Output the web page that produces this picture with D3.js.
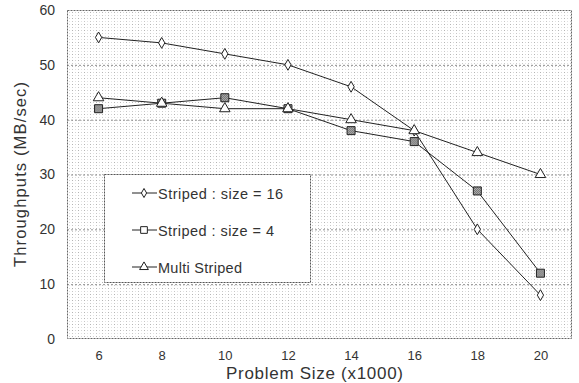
<!DOCTYPE html>
<html><head><meta charset="utf-8">
<script src="https://cdn.jsdelivr.net/npm/d3@7"></script>
<style>body{margin:0;background:#fff}svg{display:block}text{font-family:Arial,"Liberation Sans",sans-serif}</style>
</head><body><svg id="c" width="579" height="383"></svg>
<script>
const categories = [6, 8, 10, 12, 14, 16, 18, 20];
const striped16 = [55, 54, 52, 50, 46, 38, 20, 8];
const striped4 = [42, 43, 44, 42, 38, 36, 27, 12];
const multiStriped = [44, 43, 42, 42, 40, 38, 34, 30];
const yTicks = [0, 10, 20, 30, 40, 50, 60];
const seriesNames = ["Striped : size = 16", "Striped : size = 4", "Multi Striped"];

const svg = d3.select("#c");
const m = {l: 67, r: 572, t: 10, b: 339};
const x = d3.scalePoint().domain(categories).range([m.l, m.r]).padding(0.5);
const y = d3.scaleLinear().domain([0, 60]).range([m.b, m.t]);
const font = "Arial,'Liberation Sans',sans-serif";

const defs = svg.append("defs");
const pat = defs.append("pattern").attr("id","dots").attr("width",6).attr("height",6).attr("patternUnits","userSpaceOnUse");
pat.append("rect").attr("x",0).attr("y",0).attr("width",1).attr("height",1).attr("fill","#b4b4b4");
pat.append("rect").attr("x",3).attr("y",0).attr("width",1).attr("height",1).attr("fill","#d4d4d4");
pat.append("rect").attr("x",0).attr("y",3).attr("width",1).attr("height",1).attr("fill","#c8c8c8");
pat.append("rect").attr("x",3).attr("y",3).attr("width",1).attr("height",1).attr("fill","#e2e2e2");
const sq = defs.append("pattern").attr("id","sqp").attr("width",2).attr("height",2).attr("patternUnits","userSpaceOnUse");
sq.append("rect").attr("width",2).attr("height",2).attr("fill","#ddd");
sq.append("rect").attr("width",1).attr("height",1).attr("fill","#444");
sq.append("rect").attr("x",1).attr("y",1).attr("width",1).attr("height",1).attr("fill","#444");

svg.append("rect").attr("x",m.l).attr("y",m.t).attr("width",m.r-m.l).attr("height",m.b-m.t).attr("fill","url(#dots)");

// gridlines
svg.append("g").selectAll("line").data(yTicks.filter(d=>d>0&&d<60)).join("line")
  .attr("x1",m.l).attr("x2",m.r).attr("y1",d=>y(d)+0.5).attr("y2",d=>y(d)+0.5)
  .attr("stroke","#909090").attr("stroke-dasharray","2,2").attr("stroke-width",1);

svg.append("rect").attr("x",m.l+0.5).attr("y",m.t+0.5).attr("width",m.r-m.l-1).attr("height",m.b-m.t-1)
  .attr("fill","none").attr("stroke","#666").attr("stroke-dasharray","2,1");

// axes
const ya = svg.append("g").attr("transform",`translate(${m.l},0)`).call(d3.axisLeft(y).tickValues(yTicks).tickSize(0).tickPadding(12));
ya.select(".domain").remove();
ya.selectAll("text").attr("font-size",14).attr("fill","#333").attr("font-family",font);
const xa = svg.append("g").attr("transform",`translate(0,${m.b})`).call(d3.axisBottom(x).tickSize(0).tickPadding(12));
xa.select(".domain").remove();
xa.selectAll("text").attr("font-size",13).attr("fill","#333").attr("font-family",font);

svg.append("text").attr("x",226).attr("y",379).attr("font-size",17).attr("fill","#333")
  .attr("textLength",177).attr("lengthAdjust","spacing").text("Problem Size (x1000)");
svg.append("text").attr("transform","translate(26,267) rotate(-90)").attr("font-size",16.5).attr("fill","#333")
  .attr("textLength",185).attr("lengthAdjust","spacing").text("Throughputs (MB/sec)");

const series = [striped16, striped4, multiStriped];
const shapes = [d3.symbolDiamond, d3.symbolSquare, d3.symbolTriangle];
const sizes = [34, 64, 48];
const fills = ["#fff", "url(#sqp)", "#fff"];
const line = d3.line().x((d,i)=>x(categories[i])).y(d=>y(d));
series.forEach((s, k) => {
  svg.append("path").datum(s).attr("d", line).attr("fill","none").attr("stroke","#222").attr("stroke-width",1);
});
series.forEach((s, k) => {
  svg.append("g").selectAll("path").data(s).join("path")
    .attr("transform",(d,i)=>`translate(${x(categories[i])},${y(d)})`)
    .attr("d", d3.symbol().type(shapes[k]).size(sizes[k]))
    .attr("fill", fills[k]).attr("stroke","#222").attr("stroke-width",1);
});

// legend
const lg = svg.append("g");
lg.append("rect").attr("x",104.5).attr("y",174.5).attr("width",206).attr("height",108).attr("fill","#fff").attr("stroke","#555").attr("stroke-dasharray","2,1");
const legW = [125, 116, 84];
seriesNames.forEach((n,k)=>{
  const yy = 193 + k*37;
  lg.append("line").attr("x1",132).attr("x2",157).attr("y1",yy).attr("y2",yy).attr("stroke","#222");
  lg.append("path").attr("transform",`translate(144,${yy})`).attr("d",d3.symbol().type(shapes[k]).size(sizes[k]*0.7))
    .attr("fill","#fff").attr("stroke","#222");
  lg.append("text").attr("x",158).attr("y",yy+5.5).attr("font-size",14.5).attr("fill","#333")
    .attr("textLength",legW[k]).attr("lengthAdjust","spacing").text(n);
});
</script></body></html>
